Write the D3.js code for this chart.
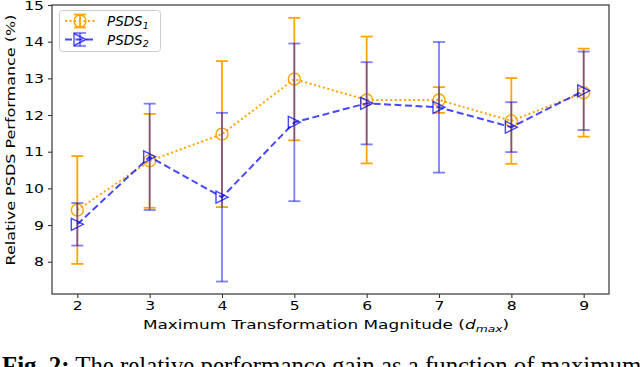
<!DOCTYPE html>
<html>
<head>
<meta charset="utf-8">
<script src="https://cdn.jsdelivr.net/npm/d3@7"></script>
<style>
    body { margin: 0; background: #fff; }
    svg { display: block; }
</style>
</head>
<body>
<div id="graph-container"></div>
<script>
// Values
const dmax = [2, 3, 4, 5, 6, 7, 8, 9];
const psds1Mean = [9.41, 10.75, 11.48, 12.98, 12.41, 12.41, 11.84, 12.61];
const psds1Err = [1.47, 1.28, 1.99, 1.67, 1.73, 0.35, 1.17, 1.20];
const psds2Mean = [9.02, 10.86, 9.76, 11.80, 12.32, 12.21, 11.67, 12.66];
const psds2Err = [0.58, 1.45, 2.30, 2.15, 1.12, 1.78, 0.68, 1.07];
const xTicks = [2, 3, 4, 5, 6, 7, 8, 9];
const yTicks = [8, 9, 10, 11, 12, 13, 14, 15];

const width = 640, height = 367;
const margin = { top: 5, right: 31, bottom: 73, left: 52 };
const sans = "DejaVu Sans, sans-serif";
const stretch = 1.25;                                                   // source figure is squashed vertically

const svg = d3.select("#graph-container")
    .append("svg")
    .attr("width", width)
    .attr("height", height);

// Scales (matplotlib-like 5% padding on x)
const x = d3.scaleLinear()
    .domain([1.65, 9.35])
    .range([margin.left, width - margin.right]);

const y = d3.scaleLinear()
    .domain([7.12, 15.0])
    .range([height - margin.bottom, margin.top]);

const toRows = (means, errs) => dmax.map((d, i) => ({ d, m: means[i], e: errs[i] }));

const series = [
    { name: "1", rows: toRows(psds1Mean, psds1Err), color: "orange", lineOpacity: 1, barOpacity: 1, dash: "2,2.6", marker: "circle" },
    { name: "2", rows: toRows(psds2Mean, psds2Err), color: "blue", lineOpacity: 0.72, barOpacity: 0.5, dash: "7,3.5", marker: "triangle" }
];

const triangle = s => `M${-s},${-s}L${-s},${s}L${s},0Z`;

// Axes
const xAxis = svg.append("g")
    .attr("transform", `translate(0, ${height - margin.bottom})`)
    .call(d3.axisBottom(x).tickValues(xTicks).tickSize(4).tickPadding(3).tickFormat(d3.format("d")));

const yAxis = svg.append("g")
    .attr("transform", `translate(${margin.left}, 0)`)
    .call(d3.axisLeft(y).tickValues(yTicks).tickSize(4).tickPadding(4).tickFormat(d3.format("d")));

[xAxis, yAxis].forEach(a => {
    a.select(".domain").remove();
    a.selectAll(".tick line").attr("stroke", "#333").attr("stroke-width", 1.1);
    a.selectAll(".tick text")
        .style("font-family", sans)
        .style("font-size", "12.5px")
        .attr("fill", "#000")
        .attr("transform", `scale(${stretch},1)`);
});
yAxis.selectAll(".tick text").attr("x", -8 / stretch);

// Plot frame
svg.append("rect")
    .attr("x", margin.left)
    .attr("y", margin.top)
    .attr("width", width - margin.left - margin.right)
    .attr("height", height - margin.top - margin.bottom)
    .attr("fill", "none")
    .attr("stroke", "#444")
    .attr("stroke-width", 1.3);

const plot = svg.append("g");

series.forEach(s => {
    const g = plot.append("g");

    // Error bars + caps
    const bars = g.append("g")
        .attr("stroke", s.color)
        .attr("stroke-opacity", s.barOpacity)
        .attr("stroke-width", 1.8);

    bars.selectAll("line.bar")
        .data(s.rows)
        .join("line")
        .attr("class", "bar")
        .attr("x1", r => x(r.d)).attr("x2", r => x(r.d))
        .attr("y1", r => y(r.m - r.e)).attr("y2", r => y(r.m + r.e));

    bars.selectAll("line.cap")
        .data(s.rows.flatMap(r => [{ d: r.d, v: r.m - r.e }, { d: r.d, v: r.m + r.e }]))
        .join("line")
        .attr("class", "cap")
        .attr("x1", c => x(c.d) - 6).attr("x2", c => x(c.d) + 6)
        .attr("y1", c => y(c.v)).attr("y2", c => y(c.v));

    // Connecting line
    g.append("path")
        .datum(s.rows)
        .attr("fill", "none")
        .attr("stroke", s.color)
        .attr("stroke-opacity", s.lineOpacity)
        .attr("stroke-width", 2)
        .attr("stroke-dasharray", s.dash)
        .attr("d", d3.line().x(r => x(r.d)).y(r => y(r.m)));

    // Hollow markers
    if (s.marker === "circle") {
        g.selectAll("circle")
            .data(s.rows)
            .join("circle")
            .attr("cx", r => x(r.d))
            .attr("cy", r => y(r.m))
            .attr("r", 6)
            .attr("fill", "none")
            .attr("stroke", s.color)
            .attr("stroke-width", 1.4);
    } else {
        g.selectAll("path.mk")
            .data(s.rows)
            .join("path")
            .attr("class", "mk")
            .attr("transform", r => `translate(${x(r.d)}, ${y(r.m)})`)
            .attr("d", triangle(6))
            .attr("fill", "none")
            .attr("stroke", s.color)
            .attr("stroke-opacity", s.lineOpacity)
            .attr("stroke-width", 1.4);
    }
});

// Legend
const legend = svg.append("g");
legend.append("rect")
    .attr("x", 59.5).attr("y", 10.5)
    .attr("width", 101).attr("height", 41)
    .attr("rx", 3)
    .attr("fill", "#fff").attr("fill-opacity", 0.8)
    .attr("stroke", "#ccc");

series.forEach((s, i) => {
    const ly = 21 + i * 18.5;
    const item = legend.append("g");
    item.append("line")
        .attr("x1", 65).attr("x2", 95).attr("y1", ly).attr("y2", ly)
        .attr("stroke", s.color).attr("stroke-opacity", s.lineOpacity)
        .attr("stroke-width", 2).attr("stroke-dasharray", s.dash);
    item.append("line")
        .attr("x1", 80).attr("x2", 80).attr("y1", ly - 6.5).attr("y2", ly + 6.5)
        .attr("stroke", s.color).attr("stroke-opacity", s.barOpacity).attr("stroke-width", 1.8);
    [ly - 6.5, ly + 6.5].forEach(cy => item.append("line")
        .attr("x1", 74).attr("x2", 86).attr("y1", cy).attr("y2", cy)
        .attr("stroke", s.color).attr("stroke-opacity", s.barOpacity).attr("stroke-width", 1.8));
    if (s.marker === "circle") {
        item.append("circle").attr("cx", 80).attr("cy", ly).attr("r", 6)
            .attr("fill", "none").attr("stroke", s.color).attr("stroke-width", 1.4);
    } else {
        item.append("path").attr("transform", `translate(80, ${ly})`).attr("d", triangle(6))
            .attr("fill", "none").attr("stroke", s.color).attr("stroke-opacity", s.lineOpacity)
            .attr("stroke-width", 1.4);
    }
    const t = item.append("text")
        .attr("x", 107).attr("y", ly + 5)
        .style("font-family", sans)
        .style("font-size", "13.5px")
        .style("font-style", "italic");
    t.append("tspan").text("PSDS");
    t.append("tspan").style("font-size", "9.5px").attr("dy", 2.5).text(s.name);
});

// Axis labels
svg.append("text")
    .attr("text-anchor", "middle")
    .attr("transform", `translate(326, 329) scale(1.3,1)`)
    .style("font-family", sans)
    .style("font-size", "13px")
    .call(t => {
        t.append("tspan").text("Maximum Transformation Magnitude (");
        t.append("tspan").style("font-style", "italic").text("d");
        t.append("tspan").style("font-style", "italic").style("font-size", "9.5px").attr("dy", 3).text("max");
        t.append("tspan").attr("dy", -3).text(")");
    });

svg.append("text")
    .attr("text-anchor", "middle")
    .attr("transform", `translate(15, 140) rotate(-90) scale(1.23,1)`)
    .style("font-family", sans)
    .style("font-size", "13px")
    .text("Relative PSDS Performance (%)");

// Figure caption (cut off by the bottom edge)
svg.append("text")
    .attr("x", 2)
    .attr("y", 374)
    .style("font-family", "Liberation Serif, Times New Roman, serif")
    .style("font-size", "24.8px")
    .call(t => {
        t.append("tspan").style("font-weight", "bold").text("Fig. 2:");
        t.append("tspan").text(" The relative performance gain as a function of maximum");
    });
</script>
</body>
</html>
